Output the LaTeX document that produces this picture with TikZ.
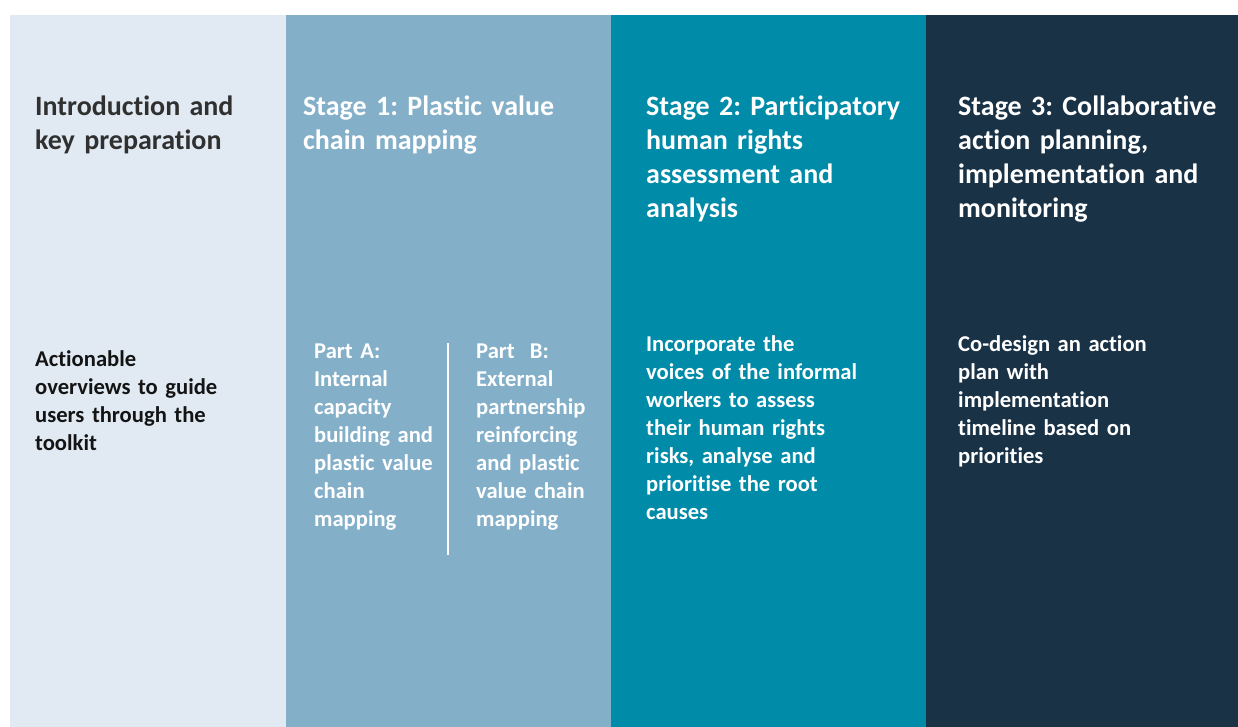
\documentclass[tikz,border=0pt]{standalone}
\usepackage{fontspec}
\setmainfont{Carlito}[RawFeature={-liga;-clig;-dlig;-calt}]
\usetikzlibrary{positioning}
\definecolor{introbg}{RGB}{225,234,243}
\definecolor{stageonebg}{RGB}{131,175,201}
\definecolor{stagetwobg}{RGB}{0,139,168}
\definecolor{stagethreebg}{RGB}{26,50,70}
\definecolor{introhead}{RGB}{48,48,48}
\definecolor{introbody}{RGB}{20,20,20}
\frenchspacing

\begin{document}
\begin{tikzpicture}[x=1pt,y=-1pt, every node/.style={inner sep=0pt, anchor=base west, align=left, text width=280pt}]
    % Styles
    \tikzset{head/.style   ={font=\bfseries\fontsize{28}{34}\selectfont}}
    \tikzset{body/.style   ={font=\bfseries\fontsize{22.6}{28}\selectfont}}
    \tikzset{divider/.style={draw=white, line width=1.5pt}}

    % Canvas
    \useasboundingbox (0,0) rectangle (1238,727);
    \fill[white] (0,0) rectangle (1238,727);

    % Columns
    \fill[introbg]      (10,15)  rectangle (286,727);
    \fill[stageonebg]   (286,15) rectangle (611,727);
    \fill[stagetwobg]   (611,15) rectangle (926,727);
    \fill[stagethreebg] (926,15) rectangle (1238,727);

    % Headings
    \node[head, text=introhead] (introhd) at (35,116)  {Introduction and\\key preparation};
    \node[head, text=white]     (onehd)   at (303,116) {Stage 1: Plastic value\\chain mapping};
    \node[head, text=white]     (twohd)   at (646,116) {Stage 2: Participatory\\human rights\\assessment and\\analysis};
    \node[head, text=white]     (threehd) at (958,116) {Stage 3: Collaborative\\action planning,\\implementation and\\monitoring};

    % Intro text
    \node[body, text=introbody] (introtx) at (35,366) {Actionable\\overviews to guide\\users through the\\toolkit};

    % Stage 1 parts
    \node[body, text=white] (parta) at (314,358) {Part A:\\Internal\\capacity\\building and\\plastic value\\chain\\mapping};
    \node[body, text=white] (partb) at (476,358) {Part\ \ B:\\External\\partnership\\reinforcing\\and plastic\\value chain\\mapping};
    \coordinate (divtop) at (448,343);
    \coordinate (divbot) at (448,555);
    \draw[divider] (divtop) -- (divbot);

    % Stage 2 and 3 text
    \node[body, text=white] (twotx)   at (646,351) {Incorporate the\\voices of the informal\\workers to assess\\their human rights\\risks, analyse and\\prioritise the root\\causes};
    \node[body, text=white] (threetx) at (958,351) {Co-design an action\\plan with\\implementation\\timeline based on\\priorities};
\end{tikzpicture}
\end{document}
